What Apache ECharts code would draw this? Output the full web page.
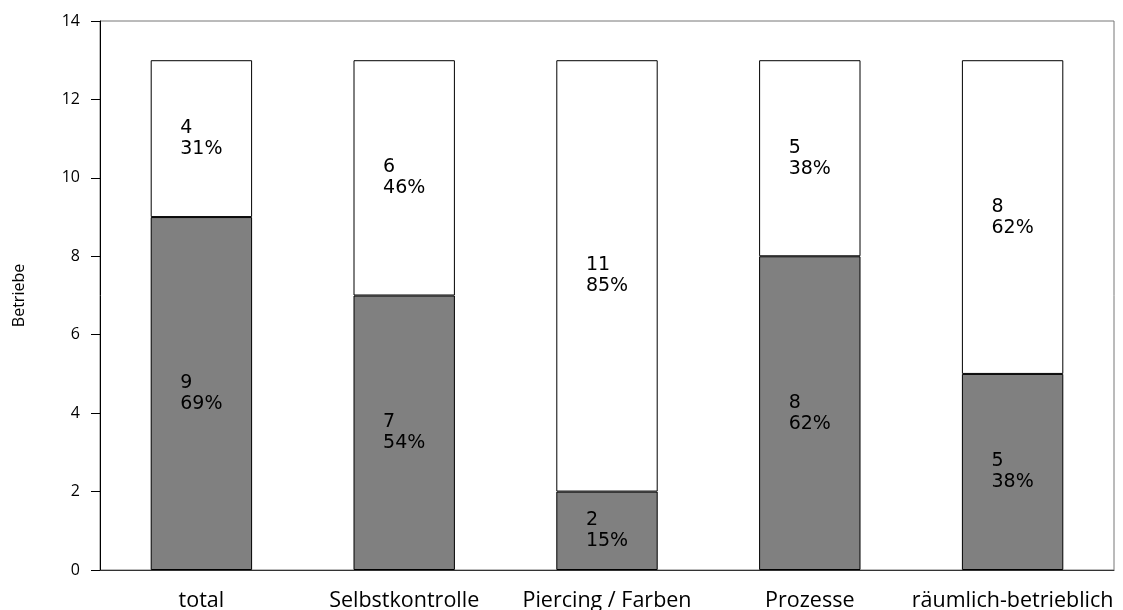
<!DOCTYPE html>
<html>
<head>
<meta charset="utf-8">
<script src="https://cdn.jsdelivr.net/npm/echarts@6/dist/echarts.min.js"></script>
<style>
  html, body { margin: 0; padding: 0; background: #fff; }
  #chart { width: 1123px; height: 610px; }
</style>
</head>
<body>
<div id="chart"></div>
<script>
var categories = ['total', 'Selbstkontrolle', 'Piercing / Farben', 'Prozesse', 'räumlich-betrieblich'];
var lowerValues = [9, 7, 2, 8, 5];   // grau
var upperValues = [4, 6, 11, 5, 8];  // weiss

var myChart = echarts.init(document.getElementById('chart'));

function makeLabel(values) {
    return {
        show: true,
        position: 'inside',
        fontFamily: 'DejaVu Sans',
        fontSize: 19,
        lineHeight: 21,
        color: '#000',
        formatter: function (p) {
            var i = p.dataIndex;
            var total = lowerValues[i] + upperValues[i];
            var pct = Math.round(values[i] / total * 100);
            return '{a|' + values[i] + '}\n{a|' + pct + '%}';
        },
        rich: {
            a: { align: 'left', fontFamily: 'DejaVu Sans', fontSize: 19, lineHeight: 21, color: '#000' }
        }
    };
}

myChart.setOption({
    backgroundColor: '#fff',
    animation: false,
    grid: {
        left: 100,
        right: 9,
        top: 21,
        bottom: 40,
        outerBoundsMode: 'none',
        containLabel: false,
        show: true,
        borderColor: '#777',
        borderWidth: 1
    },
    xAxis: {
        type: 'category',
        data: categories,
        axisLine: { lineStyle: { color: '#333', width: 1 } },
        axisTick: { alignWithLabel: true, length: 9, lineStyle: { color: '#333' } },
        axisLabel: {
            margin: 20,
            fontFamily: 'Open Sans',
            fontSize: 21.5,
            color: '#000',
            interval: 0
        }
    },
    yAxis: {
        type: 'value',
        min: 0,
        max: 14,
        interval: 2,
        name: 'Betriebe',
        nameLocation: 'middle',
        nameGap: 73,
        nameTextStyle: { fontFamily: 'Open Sans', fontSize: 16, color: '#000' },
        axisLine: { show: true, lineStyle: { color: '#000', width: 1 } },
        axisTick: { show: true, length: 9, lineStyle: { color: '#000' } },
        axisLabel: { margin: 20, fontFamily: 'Open Sans', fontSize: 16, color: '#000' },
        splitLine: { show: false }
    },
    series: [{
        type: 'bar',
        stack: 'a',
        barWidth: '50%',
        data: lowerValues,
        itemStyle: { color: '#808080', borderColor: '#000', borderWidth: 1 },
        label: makeLabel(lowerValues)
    }, {
        type: 'bar',
        stack: 'a',
        barWidth: '50%',
        data: upperValues,
        itemStyle: { color: '#fff', borderColor: '#000', borderWidth: 1 },
        label: makeLabel(upperValues)
    }]
});
</script>
</body>
</html>
